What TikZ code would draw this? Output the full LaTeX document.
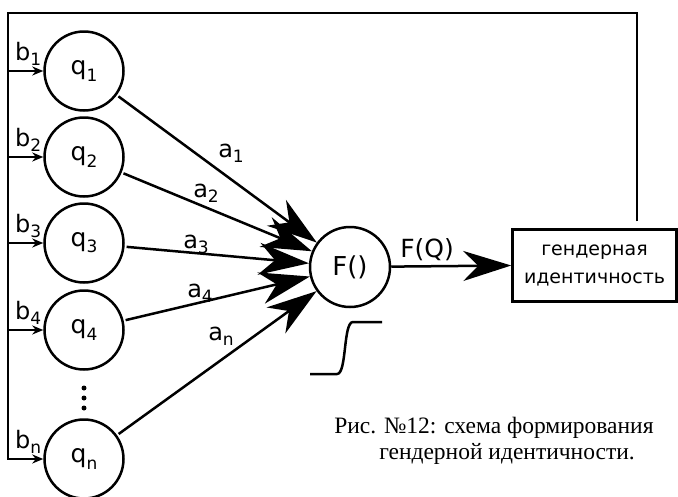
\documentclass[tikz,border=0pt]{standalone}
\usepackage{fontspec}
\setmainfont{DejaVu Sans}
\newfontfamily\capfont{Liberation Serif}
\usetikzlibrary{arrows.meta}
\newcommand\sbs[1]{\raisebox{-0.45ex}{\fontsize{17}{17}\selectfont #1}}
\begin{document}
\begin{tikzpicture}[x=1pt,y=-1pt,line width=2.5pt,
  qnode/.style={circle,draw,minimum size=79pt,inner sep=0pt,font=\fontsize{25}{28}\selectfont},
  lbl/.style={anchor=base west,inner sep=0pt,font=\fontsize{24}{28}\selectfont},
  bigarr/.style={-{Stealth[length=50pt,width=32pt,inset=16pt]}},
  outarr/.style={-{Stealth[length=48pt,width=30pt,inset=15pt]}},
  smallarr/.style={-{Stealth[length=11pt,width=9pt]}},
  boxnode/.style={draw,rectangle,minimum width=164pt,minimum height=72pt,align=center,inner sep=0pt,font=\fontsize{19}{28}\selectfont},
  capt/.style={anchor=base west,inner sep=0pt,font=\capfont\fontsize{23.5}{26}\selectfont}]
\useasboundingbox (0,0) rectangle (678,496);
% nodes
\node[qnode] (q1) at (84,71) {q\sbs{1}};
\node[qnode] (q2) at (84,157) {q\sbs{2}};
\node[qnode] (q3) at (84,243) {q\sbs{3}};
\node[qnode] (q4) at (84,330) {q\sbs{4}};
\node[qnode] (qn) at (84,459) {q\sbs{n}};
\node[qnode,minimum size=80pt,font=\fontsize{26}{28}\selectfont] (F) at (350,267) {F()};
\node[boxnode] (box) at (594.5,265.5) {гендерная\\идентичность};
% frame
\coordinate (L) at (8,13);
\coordinate (R) at (637,13);
\draw[smallarr] ([yshift=7pt]box.north -| R) -- (R) -- (L) -- (L |- qn.west) -- (qn.west);
\foreach \q in {q1,q2,q3,q4}{\draw[smallarr] (L |- \q.west) -- (\q.west);}
% b labels
\node[lbl] (b1) at (14,60) {b\sbs{1}};
\node[lbl] (b2) at (14,146) {b\sbs{2}};
\node[lbl] (b3) at (14,232) {b\sbs{3}};
\node[lbl] (b4) at (14,319) {b\sbs{4}};
\node[lbl] (bn) at (14,448) {b\sbs{n}};
% dots
\foreach \yy in {388,398,408}{\fill (84,\yy) circle (2.5pt);}
% weighted arrows
\foreach \q in {q1,q2,q3,q4,qn}{\draw[bigarr,shorten <=2pt] (\q) -- (F);}
\node[lbl] (a1) at (217,157) {a\sbs{1}};
\node[lbl] (a2) at (192,197) {a\sbs{2}};
\node[lbl] (a3) at (182,248) {a\sbs{3}};
\node[lbl] (a4) at (186,297) {a\sbs{4}};
\node[lbl] (an) at (207,340) {a\sbs{n}};
% output
\draw[outarr] (F) -- (box.west);
\node[lbl,font=\fontsize{25}{28}\selectfont] (FQ) at (399,257) {F(Q)};
% sigmoid
\draw (310,374) -- (337,374) .. controls (347,374) and (343,322) .. (353,322) -- (382,322);
% caption
\node[capt] (cap1) at (333,433) {Рис. №12: схема формирования};
\node[capt] (cap2) at (378,459) {гендерной идентичности.};
\end{tikzpicture}
\end{document}
